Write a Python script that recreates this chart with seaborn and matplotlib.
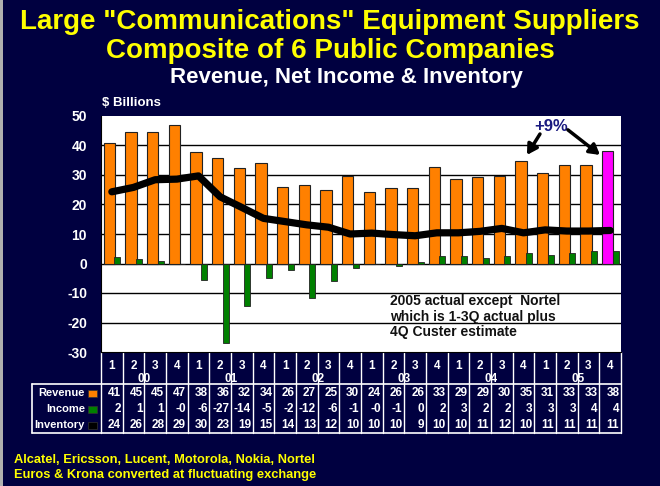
import numpy as np
import pandas as pd
import matplotlib
matplotlib.use("Agg")
import matplotlib.pyplot as plt
import matplotlib.transforms as mtrans
from matplotlib.patches import Rectangle
import seaborn as sns

# ---------------- data ----------------
years = ["00", "01", "02", "03", "04", "05"]
quarters = ["1", "2", "3", "4"]
periods = [f"{q}Q{y}" for y in years for q in quarters]
revenue = [41.0, 44.6, 44.6, 47.0, 37.9, 35.7, 32.3, 34.1, 25.8, 26.6, 25.0, 29.7,
           24.4, 25.7, 25.7, 32.6, 28.6, 29.3, 29.7, 34.9, 30.6, 33.4, 33.4, 38.1]
income = [2.1, 1.4, 1.0, -0.2, -5.7, -26.9, -14.5, -4.8, -2.3, -11.7, -5.9, -1.4,
          -0.2, -0.8, 0.4, 2.4, 2.7, 2.0, 2.4, 3.4, 3.0, 3.4, 4.2, 4.1]
inventory = [24.3, 25.8, 28.4, 28.6, 29.7, 22.6, 19.0, 15.3, 14.2, 13.1, 12.3, 10.0,
             10.3, 9.8, 9.4, 10.4, 10.4, 10.9, 11.9, 10.4, 11.4, 11.0, 11.0, 11.2]
row_names = ["Revenue", "Income", "Inventory"]
yticks = [50, 40, 30, 20, 10, 0, -10, -20, -30]
title1 = 'Large "Communications" Equipment Suppliers'
title2 = "Composite of 6 Public Companies"
title3 = "Revenue, Net Income & Inventory"
note = "2005 actual except  Nortel\nwhich is 1-3Q actual plus\n4Q Custer estimate"
footer1 = "Alcatel, Ericsson, Lucent, Motorola, Nokia, Nortel"
footer2 = "Euros & Krona converted at fluctuating exchange"

# ---------------- style ----------------
NAVY = "#000040"
ORANGE = "#FF8000"
GREEN = "#008000"
PINK = "#FF00FF"
sns.set_style("white")
plt.rcParams["font.family"] = ["Liberation Sans", "DejaVu Sans"]
plt.rcParams["font.weight"] = "bold"

fig = plt.figure(figsize=(6.6, 4.86), dpi=100, facecolor=NAVY)
W, H = 660, 486
ax = fig.add_axes([101 / W, 1 - 352 / H, 520 / W, 236 / H])
ax.set_facecolor("white")

df = pd.DataFrame({"period": periods, "revenue": revenue, "income": income,
                   "inventory": inventory})
df["pos"] = np.arange(len(df))

sns.barplot(data=df, x="period", y="revenue", color=ORANGE, saturation=1,
            width=0.52, edgecolor="#222222", linewidth=0.8, errorbar=None,
            ax=ax, zorder=3)
n = len(df)
for p in ax.patches[:n]:
    p.set_x(p.get_x() - 0.115)
ax.patches[n - 1].set_facecolor(PINK)

sns.barplot(data=df, x="period", y="income", color=GREEN, saturation=1,
            width=0.28, edgecolor="#222222", linewidth=0.6, errorbar=None,
            ax=ax, zorder=3)
for p in ax.patches[n:2 * n]:
    p.set_x(p.get_x() + 0.25)

sns.lineplot(data=df, x="pos", y="inventory", color="black", linewidth=5.2,
             ax=ax, zorder=4)

ax.set_xlim(-0.5, n - 0.5)
ax.set_ylim(-30, 50)
ax.set_xlabel("")
ax.set_ylabel("")
for v in [40, 30, 20, 10, 0, -10, -20]:
    ax.axhline(v, color="black", lw=1.0, zorder=1)
for s in ["top", "right"]:
    ax.spines[s].set_visible(False)
ax.spines["left"].set_color("black")
ax.spines["bottom"].set_color("black")
ax.set_yticks(yticks)
ax.set_yticklabels([str(v) for v in yticks], color="white", fontsize=10,
                   fontweight="bold")
ax.tick_params(axis="y", length=3, color="black", pad=7)
ax.set_xticks(range(n))
ax.set_xticklabels([])
ax.tick_params(axis="x", direction="in", length=6, color="black", width=1)

# ---------------- table below ----------------
tr = mtrans.blended_transform_factory(ax.transData, ax.transAxes)
def yf(py):
    return (352 - py) / 236.0

for i in range(n + 1):
    ax.plot([i - 0.5, i - 0.5], [yf(352), yf(433)], color="white", lw=1,
            transform=tr, clip_on=False)
x_left = -0.5 - 69 / 21.67
ax.plot([x_left, n - 0.5], [yf(384), yf(384)], color="white", lw=1.2,
        transform=tr, clip_on=False)
ax.plot([x_left, n - 0.5], [yf(433), yf(433)], color="white", lw=1.2,
        transform=tr, clip_on=False)
ax.plot([x_left, x_left], [yf(384), yf(433)], color="white", lw=1.2,
        transform=tr, clip_on=False)

for i in range(n):
    ax.text(i, yf(366), quarters[i % 4], color="white", fontsize=8.5,
            fontweight="bold", ha="center", va="center", transform=tr)
for k, y in enumerate(years):
    ax.text(4 * k + 1.5, yf(379), y, color="white", fontsize=8.5,
            fontweight="bold", ha="center", va="center", transform=tr)

def fmt(v):
    r = int(round(v))
    if r == 0 and v < 0:
        return "-0"
    return str(r)

rows = [revenue, income, inventory]
row_y = [393, 409, 425]
sq_colors = [ORANGE, GREEN, "black"]
for name, vals, py, c in zip(row_names, rows, row_y, sq_colors):
    for i, v in enumerate(vals):
        ax.text(i + 0.42, yf(py), fmt(v), color="white", fontsize=8.5,
                fontweight="bold", ha="right", va="center", transform=tr)
    ax.text(-0.5 - 16 / 21.67, yf(py), name, color="white", fontsize=8,
            fontweight="bold", ha="right", va="center", transform=tr)
    ax.add_patch(Rectangle((-0.5 - 13 / 21.67, yf(py + 4)), 9 / 21.67,
                           7 / 236.0, facecolor=c, edgecolor="#333333",
                           lw=0.5, transform=tr, clip_on=False))

# ---------------- annotations ----------------
ax.text(20.27, 46.6, "+9%", color="#1a1a80", fontsize=12, fontweight="bold",
        ha="center", va="center", zorder=6, clip_on=False)
arrow = dict(arrowstyle="-|>,head_length=0.6,head_width=0.35", color="black",
             lw=2.5, shrinkA=0, shrinkB=0)
ax.annotate("", xy=(19.16, 36.8), xytext=(19.76, 43.9), arrowprops=arrow,
            zorder=6, annotation_clip=False)
ax.annotate("", xy=(22.53, 36.8), xytext=(21.05, 45.3), arrowprops=arrow,
            zorder=6, annotation_clip=False)
ax.text(12.84, -10.3, note, color="#111111", fontsize=10, fontweight="bold",
        ha="left", va="top", linespacing=1.15, zorder=6)

# ---------------- titles ----------------
fig.text(0.5, 1 - 22 / H, title1, color="#FFFF00", fontsize=20,
         fontweight="bold", ha="center", va="center")
fig.text(0.5, 1 - 51 / H, title2, color="#FFFF00", fontsize=20,
         fontweight="bold", ha="center", va="center")
fig.text(0.525, 1 - 77 / H, title3, color="white", fontsize=16,
         fontweight="bold", ha="center", va="center")
fig.text(102 / W, 1 - 103 / H, "$ Billions", color="white", fontsize=9.5,
         fontweight="bold", ha="left", va="center")
fig.text(14 / W, 1 - 460 / H, footer1, color="#FFFF00", fontsize=9.3,
         fontweight="bold", ha="left", va="center")
fig.text(14 / W, 1 - 475 / H, footer2, color="#FFFF00", fontsize=9.3,
         fontweight="bold", ha="left", va="center")

fig.add_artist(Rectangle((0, 0), 3 / W, 1, transform=fig.transFigure,
                         facecolor="#B0B0B0", edgecolor="none"))

fig.savefig("out.png", dpi=100, facecolor=NAVY)
